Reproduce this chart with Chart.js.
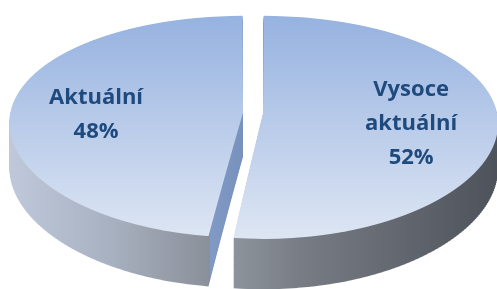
<!DOCTYPE html>
<html><head><meta charset="utf-8">
<script src="https://cdn.jsdelivr.net/npm/chart.js@4.4.1/dist/chart.umd.min.js"></script>
<style>html,body{margin:0;padding:0;background:#fff;overflow:hidden}canvas{display:block}</style>
</head><body>
<canvas id="chart" width="497" height="289"></canvas>
<script>
// ---------- data ----------
const categories = ['Vysoce aktuální', 'Aktuální'];
const values = [52, 48];
const labelLines = [['Vysoce', 'aktuální'], ['Aktuální']];

// ---------- view / style ----------
const VIEW = { apexY: 113, tiltY: 0.4687, perspY: 0.1261, perspX: 0.09, depth: 44, layers: 26 };
const TOP_FROM = [150, 178, 224], TOP_TO = [222, 230, 243], TOP_Y0 = 16, TOP_Y1 = 240;
const LABEL_COLOR = '#1f4a7d';
const LABEL_FONT = 'bold 22px "Open Sans", "DejaVu Sans", sans-serif';
const LABEL_R = 0.66, LABEL_DY = 6, LINE_H = 34;

function mix(a, b, t) {
  t = Math.max(0, Math.min(1, t));
  return 'rgb(' + a.map((v, i) => Math.round(v + (b[i] - v) * t)).join(',') + ')';
}

const pie3d = {
  id: 'pie3d',
  beforeDatasetsDraw(chart) {
    const ctx = chart.ctx;
    const pr = chart.currentDevicePixelRatio || 1;
    const arcs = chart.getDatasetMeta(0).data;
    const a0 = arcs[0];
    const cx = a0.x, cy = a0.y;
    const offPx = arc => (arc.options.offset || 0) / 4;
    const R = a0.outerRadius + offPx(a0);
    const by = VIEW.perspY / R, bx = VIEW.perspX / R;
    const px = cx, py = VIEW.apexY, ay = VIEW.tiltY;

    const vOf = (Y) => { const dY = Y - py; return dY / (ay + by * dY); };
    const rowMap = (Y) => {
      const v = vOf(Y);
      const sx = 1 / (1 - bx * v);
      const wy = 1 - by * v;
      const sy = ay / (wy * wy);
      return { a: sx, e: px - sx * cx, d: sy, f: Y - sy * (cy + v) };
    };
    const project = (x, y) => {
      const v = y - cy;
      return { X: px + (x - cx) / (1 - bx * v), Y: py + ay * v / (1 - by * v) };
    };
    const shiftOf = arc => {
      const mid = (arc.startAngle + arc.endAngle) / 2, o = offPx(arc);
      return { ox: Math.cos(mid) * o, oy: Math.sin(mid) * o, mid };
    };
    chart.$pie3d = { project, shiftOf };

    // front corner of the left slice (where rim side meets the cut face)
    const aL = arcs[1], sL = shiftOf(aL);
    const fixL = 1 - Math.sin(Math.min(Math.PI, aL.circumference));
    const RL = aL.outerRadius + offPx(aL) * fixL;
    const corner = project(aL.x + sL.ox + RL * Math.cos(aL.startAngle), aL.y + sL.oy + RL * Math.sin(aL.startAngle));
    const Xc = corner.X;

    const sideStops = [
      [[228, '#8f959e'], [300, '#787d85'], [497, '#4e535b']],
      [[8, '#bfc9db'], [110, '#a8b1c1'], [Xc - 0.5, '#8a9099'], [Xc + 0.5, '#8099c5'], [Xc + 35, '#7890bc']]
    ];
    const shifts = arcs.map(shiftOf);
    const sideFill = (i, m) => {
      const st = sideStops[i], x0 = st[0][0], x1 = st[st.length - 1][0];
      const ox = shifts[i].ox;
      const g = ctx.createLinearGradient((x0 - m.e) / m.a - ox, 0, (x1 - m.e) / m.a - ox, 0);
      st.forEach(s => g.addColorStop((s[0] - x0) / (x1 - x0), s[1]));
      return g;
    };

    const drawArcs = (fills) => arcs.forEach((arc, i) => {
      const o = arc.options;
      arc.options = Object.assign({}, o, { backgroundColor: fills[i], borderWidth: 0 });
      arc.draw(ctx);
      arc.options = o;
    });
    const strip = (Y0, h, shift, fillFn) => {
      const m = rowMap(Y0 + h / 2 - shift);
      ctx.save();
      ctx.beginPath(); ctx.rect(0, Y0, chart.width, h); ctx.clip();
      ctx.setTransform(pr * m.a, 0, 0, pr * m.d, pr * m.e, pr * (m.f + shift));
      drawArcs(arcs.map((arc, i) => fillFn(i, m)));
      ctx.restore();
    };

    const yTop = Math.floor(project(cx, cy - R - 12).Y) - 1;
    const yBot = Math.ceil(project(cx, cy + R + 12).Y) + 1;

    // extruded sides (depth grows toward the viewer)
    const depthAt = (Ys) => VIEW.depth / (1 - by * vOf(Ys));
    for (let k = VIEW.layers; k >= 1; k--) {
      const q = k / VIEW.layers;
      for (let Y = yTop; Y < chart.height; Y += 2) {
        const Yc = Y + 1;
        let Ys = Yc - q * VIEW.depth;
        for (let it = 0; it < 3; it++) Ys = Yc - q * depthAt(Ys);
        if (Ys < yTop - 1 || Ys > yBot + 1) continue;
        strip(Y, 2, Yc - Ys, sideFill);
      }
    }
    // top face
    for (let Y = yTop; Y < yBot; Y++) {
      const c = mix(TOP_FROM, TOP_TO, (Y + 0.5 - TOP_Y0) / (TOP_Y1 - TOP_Y0));
      strip(Y, 1, 0, () => c);
    }
    return false;
  },
  afterDraw(chart) {
    const P = chart.$pie3d;
    if (!P) return;
    const ctx = chart.ctx;
    const arcs = chart.getDatasetMeta(0).data;
    ctx.save();
    ctx.font = LABEL_FONT;
    ctx.fillStyle = LABEL_COLOR;
    ctx.textAlign = 'center';
    ctx.textBaseline = 'middle';
    arcs.forEach((arc, i) => {
      const s = P.shiftOf(arc);
      const dist = LABEL_R * arc.outerRadius;
      const p = P.project(arc.x + s.ox + Math.cos(s.mid) * dist, arc.y + s.oy + Math.sin(s.mid) * dist);
      const lines = labelLines[i].concat([values[i] + '%']);
      lines.forEach((t, k) => {
        ctx.fillText(t, p.X, p.Y + LABEL_DY + (k - (lines.length - 1) / 2) * LINE_H);
      });
    });
    ctx.restore();
  }
};

new Chart(document.getElementById('chart'), {
  type: 'pie',
  data: {
    labels: categories,
    datasets: [{
      data: values,
      backgroundColor: ['#a9bfe4', '#a9bfe4'],
      borderWidth: 0,
      offset: 40,
      hoverOffset: 0,
      radius: 224
    }]
  },
  options: {
    responsive: false,
    animation: false,
    events: [],
    layout: { padding: { left: 9, right: 0, top: 0, bottom: 0 } },
    plugins: { legend: { display: false }, tooltip: { enabled: false } }
  },
  plugins: [pie3d]
});
</script>
</body></html>
